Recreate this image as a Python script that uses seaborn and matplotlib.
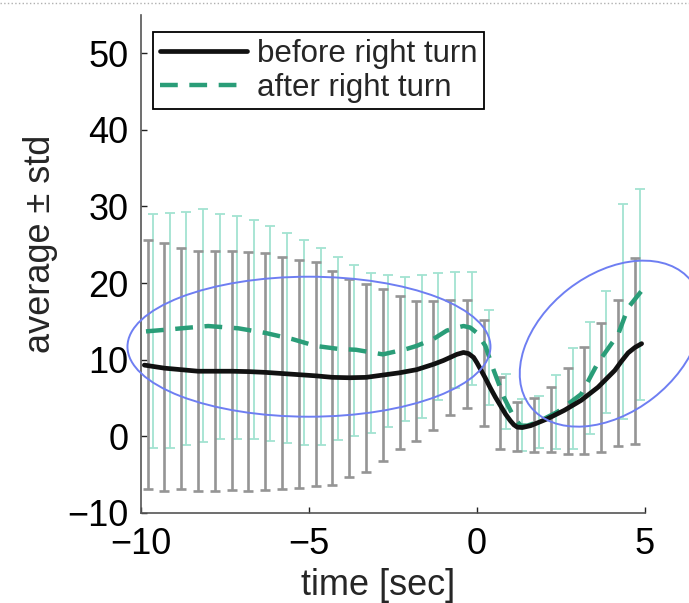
import numpy as np
import pandas as pd
import seaborn as sns
import matplotlib
matplotlib.use('Agg')
import matplotlib.pyplot as plt
import matplotlib.transforms as mtransforms
from matplotlib.patches import Ellipse

# mean curves
t_before = [-9.9, -9.3, -8.8, -8.3, -7.8, -7.3, -6.8, -6.3, -5.8, -5.3, -4.8, -4.3,
            -3.8, -3.3, -2.8, -2.3, -1.8, -1.3, -1.0, -0.8, -0.6, -0.4, -0.25, -0.1,
            0.0, 0.1, 0.25, 0.4, 0.55, 0.7, 0.85, 1.0, 1.1, 1.2, 1.35, 1.6, 2.1, 2.6,
            3.1, 3.6, 4.1, 4.3, 4.5, 4.7, 4.9]
v_before = [9.3, 8.9, 8.7, 8.5, 8.5, 8.5, 8.45, 8.35, 8.2, 8.05, 7.9, 7.7,
            7.65, 7.7, 8.0, 8.3, 8.7, 9.4, 9.9, 10.3, 10.7, 10.95, 10.8, 10.3,
            9.6, 8.8, 7.6, 6.3, 5.1, 4.0, 2.9, 2.0, 1.5, 1.2, 1.15, 1.4, 2.3, 3.4,
            4.7, 6.4, 8.6, 9.8, 10.9, 11.6, 12.1]

t_after = [-9.85, -9.3, -8.8, -8.0, -7.1, -6.3, -5.5, -4.8, -4.1, -3.6, -2.8, -2.1,
           -1.8, -1.3, -0.9, -0.6, -0.4, -0.2, 0.0, 0.25, 0.5, 0.8, 1.1, 1.3, 1.5,
           1.8, 2.4, 3.1, 3.6, 4.2, 4.5, 4.9]
v_after = [13.7, 13.9, 14.1, 14.4, 14.1, 13.5, 12.7, 11.8, 11.4, 11.3, 10.7, 11.4,
           11.8, 12.7, 13.8, 14.2, 14.4, 14.2, 13.5, 11.8, 8.6, 5.1, 2.5, 1.4, 1.4,
           1.85, 3.2, 5.5, 9.6, 13.3, 16.8, 19.0]

# error bars: every 0.5 s
bar_t_before = [-9.8, -9.3, -8.8, -8.3, -7.8, -7.3, -6.8, -6.3, -5.8, -5.3,
                -4.8, -4.3, -3.8, -3.3, -2.8, -2.3, -1.8, -1.3, -0.8, -0.3,
                0.2, 0.7, 1.2, 1.7, 2.2, 2.7, 3.2, 3.7, 4.2, 4.7]
bar_mean_before = [9.35, 9.05, 8.85, 8.55, 8.55, 8.6, 8.45, 8.45, 8.25, 8.1,
                   8.1, 7.65, 7.65, 7.65, 8.0, 8.3, 8.55, 9.25, 10.3, 10.75,
                   8.3, 3.05, 1.3, 1.5, 2.25, 3.3, 4.7, 6.4, 8.3, 11.15]
bar_std_before = [16.25, 16.15, 15.75, 15.65, 15.65, 15.6, 15.55, 15.45, 15.15, 14.9,
                  14.6, 13.95, 12.95, 12.25, 11.2, 10.0, 9.15, 8.45, 7.5, 7.05,
                  6.9, 4.65, 3.2, 3.5, 4.25, 5.6, 7.0, 8.4, 9.5, 12.15]

bar_t_after = [-9.65, -9.15, -8.65, -8.15, -7.65, -7.15, -6.65, -6.15, -5.65, -5.15,
               -4.65, -4.15, -3.65, -3.15, -2.65, -2.15, -1.65, -1.15, -0.65, -0.15,
               0.35, 0.85, 1.35, 1.85, 2.35, 2.85, 3.35, 3.85, 4.35, 4.85]
bar_mean_after = [13.75, 13.8, 14.1, 14.5, 14.3, 14.2, 13.95, 13.4, 12.85, 12.25,
                  11.75, 11.45, 11.2, 10.9, 11.1, 11.4, 11.7, 13.0, 13.9, 14.1,
                  10.3, 4.6, 1.5, 1.9, 3.2, 4.9, 7.6, 11.0, 16.3, 18.5]
bar_std_after = [15.25, 15.3, 15.2, 15.2, 14.7, 14.6, 14.35, 14.0, 13.75, 13.35,
                 12.85, 11.95, 11.2, 10.4, 9.9, 9.4, 9.3, 8.3, 7.6, 7.4,
                 6.2, 3.6, 3.4, 3.4, 4.8, 6.6, 7.3, 8.0, 14.0, 13.8]

labels = ['before right turn', 'after right turn']

sns.set_theme(style='ticks')
plt.rcParams['font.family'] = ['Liberation Sans', 'DejaVu Sans']

fig = plt.figure(figsize=(6.89, 6.03), dpi=100)
ax = fig.add_axes([0.2046, 0.1493, 0.7315, 0.8259])

# std bars
ax.errorbar(bar_t_after, bar_mean_after, yerr=bar_std_after, fmt='none',
            ecolor='#a3e3d1', elinewidth=1.3, capsize=3.5, capthick=1.3, zorder=1)
ax.errorbar(bar_t_before, bar_mean_before, yerr=bar_std_before, fmt='none',
            ecolor='#959595', elinewidth=1.9, capsize=3.5, capthick=1.9, zorder=2)

# mean curves
df_b = pd.DataFrame({'t': t_before, 'v': v_before})
df_a = pd.DataFrame({'t': t_after, 'v': v_after})
sns.lineplot(data=df_b, x='t', y='v', ax=ax, color='#111111', linewidth=3.4,
             label=labels[0], zorder=4)
sns.lineplot(data=df_a, x='t', y='v', ax=ax, color='#2a9d78', linewidth=3.2,
             label=labels[1], zorder=3)
ax.lines[-1].set_dashes([4, 2.6])

ax.set_xlim(-10, 5)
ax.set_ylim(-10, 55)
ax.set_xticks([-10, -5, 0, 5])
ax.set_yticks([-10, 0, 10, 20, 30, 40, 50])
ax.tick_params(direction='in', length=4, width=1, labelsize=26, colors='#222222',
               labelcolor='black')
ax.tick_params(axis='y', pad=9)
ax.tick_params(axis='x', pad=10)
sns.despine(ax=ax)
for s in ['left', 'bottom']:
    ax.spines[s].set_color('#555555')
    ax.spines[s].set_linewidth(1.2)

ax.set_xlabel('time [sec]', fontsize=26)
ax.set_ylabel('average ± std', fontsize=26)
ax.xaxis.set_label_coords(0.47, -0.11)
ax.yaxis.set_label_coords(-0.165, 0.54)

leg = ax.legend(loc='upper left', bbox_to_anchor=(0.024, 0.966), borderaxespad=0,
                frameon=True, fancybox=False, edgecolor='black', framealpha=1,
                fontsize=22.5, handlelength=2.8, borderpad=0.22, labelspacing=0.12,
                handletextpad=0.3)
leg.get_frame().set_linewidth(1.3)

# blue highlight ellipses (sizes in inches, centred on data points)
ell_centers = [(-5.0, 11.7), (3.98, 12.1)]
ell_sizes = [(3.63, 1.40, 0), (2.04, 1.38, 37.9)]
for (cx, cy), (w, h, ang) in zip(ell_centers, ell_sizes):
    tr = fig.dpi_scale_trans + mtransforms.ScaledTranslation(cx, cy, ax.transData)
    e = Ellipse((0, 0), w, h, angle=ang, transform=tr, fill=False,
                edgecolor='#6e7ef2', linewidth=1.4, clip_on=False, zorder=5)
    ax.add_artist(e)

# dotted page border at the top
fig.add_artist(plt.Line2D([0, 1], [0.995, 0.995], transform=fig.transFigure,
                          color='#b0b0b0', linestyle=':', linewidth=1))

fig.savefig('out.png', dpi=100)
